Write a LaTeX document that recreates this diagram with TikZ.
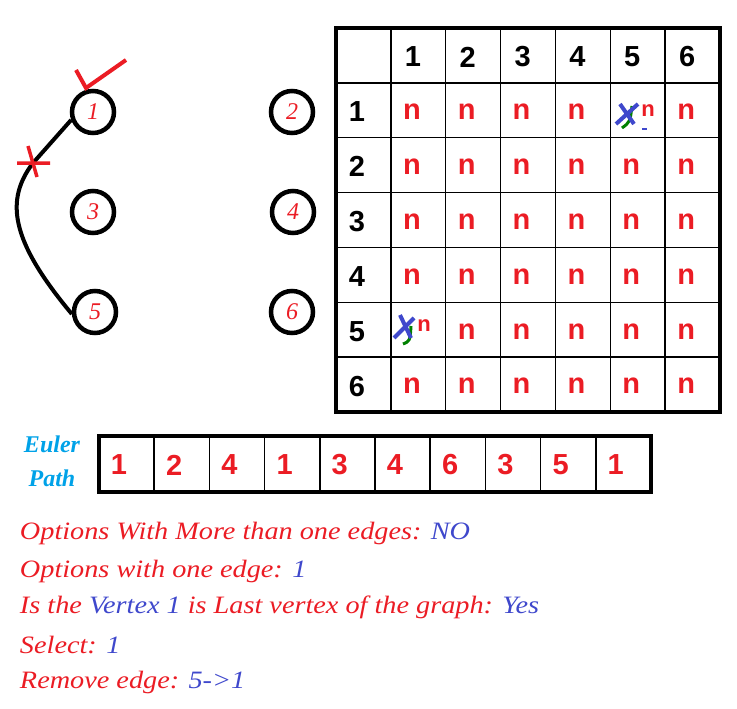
\documentclass[tikz,border=0pt]{standalone}
\usepackage{fontspec}
\setmainfont{Liberation Serif}
\newfontfamily\tabfont{Liberation Sans}
\definecolor{myred}{RGB}{235,28,36}
\definecolor{myblue}{RGB}{63,72,204}
\definecolor{mycyan}{RGB}{0,162,232}
\definecolor{mygreen}{RGB}{0,128,0}
\begin{document}
\begin{tikzpicture}[x=1pt,y=-1pt,
  vert/.style={circle,draw,line width=4.5pt,minimum size=42pt,inner sep=0pt,text=myred,font=\itshape\fontsize{24}{24}\selectfont},
  cell/.style={font=\tabfont\bfseries\fontsize{29}{29}\selectfont},
  ln/.style={anchor=west,font=\itshape\fontsize{25}{24}\selectfont,text=myred}]
\useasboundingbox (0,0) rectangle (737,709);
\node[vert] (v1) at (93,112) {1};
\node[vert] (v3) at (93,212) {3};
\node[vert] (v5) at (95,312) {5};
\node[vert] (v2) at (292,112) {2};
\node[vert] (v4) at (293,212) {4};
\node[vert] (v6) at (292,312) {6};
\coordinate (xm) at (33,163);
\draw[line width=4pt] (v1.200) -- (xm) .. controls (5,200) and (10,240) .. (v5.185);
\draw[myred,line width=3.5pt] (17,163) -- (50,163) (28,146) -- (37,177);
\draw[myred,line width=4pt] (76,70) -- (86,88) -- (126,60);
% table
\foreach \i in {0,...,7}{
  \draw[line width=1.5pt] ({336+\i*54.857},28) -- ({336+\i*54.857},412);
  \draw[line width=1.5pt] (336,{28+\i*54.857}) -- (720,{28+\i*54.857});}
\draw[line width=3.5pt] (336,28) rectangle (720,412);
\foreach \i in {1,...,6}{
  \node[cell] (c0\i) at ({336+\i*54.857+22},{28+29}) {\i};
  \node[cell] (r\i0) at ({336+21},{28+\i*54.857+29}) {\i};}
\foreach \r in {1,...,6}{\foreach \c in {1,...,6}{
  \pgfmathsetmacro{\sk}{(\r==1 && \c==5) || (\r==5 && \c==1) ? 1 : 0}
  \ifdim\sk pt=0pt
  \node[cell,text=myred] (n\r\c) at ({336+\c*54.857+21},{28+\r*54.857+29}) {n};
  \fi}}
\node[cell,text=myred,font=\tabfont\bfseries\fontsize{22}{22}\selectfont] (n15) at (648,111) {n};
\node[cell,text=myred,font=\tabfont\bfseries\fontsize{22}{22}\selectfont] (n51) at (424,326) {n};
\draw[mygreen,line width=3pt] (632,106) .. controls (630,122) .. (622,128);
\draw[myblue,line width=4pt] (620,104) -- (634,124) (638,104) -- (616,124);
\draw[myblue,line width=2pt] (642,129) -- (647,129);
\draw[mygreen,line width=3pt] (411,326) .. controls (410,341) .. (403,344);
\draw[myblue,line width=4pt] (400,315) -- (411,338) (414,318) -- (394,338);
% euler path
\node[text=mycyan,font=\bfseries\itshape\fontsize{24}{24}\selectfont,align=center] (ep) at (52,461) {Euler\\[10pt]Path};
\draw[line width=3.5pt] (99,436) rectangle (651,492);
\foreach \i in {1,...,9}{\draw[line width=1.5pt] ({99+\i*55.2},436) -- ({99+\i*55.2},492);}
\foreach \v [count=\k from 0] in {1,2,4,1,3,4,6,3,5,1}{
  \node[cell,text=myred] (p\k) at ({99+\k*55.2+20},465) {\v};}
% text lines
\begin{scope}[every node/.append style={xscale=1.13}]
\node[ln] (t1) at (16,533) {Options With More than one edges: \textcolor{myblue}{NO}};
\node[ln] (t2) at (16,571) {Options with one edge: \textcolor{myblue}{1}};
\node[ln] (t3) at (16,607) {Is the \textcolor{myblue}{Vertex 1} is Last vertex of the graph: \textcolor{myblue}{Yes}};
\node[ln] (t4) at (16,645) {Select: \textcolor{myblue}{1}};
\node[ln] (t5) at (16,682) {Remove edge: \textcolor{myblue}{5->1}};
\end{scope}
\end{tikzpicture}
\end{document}
